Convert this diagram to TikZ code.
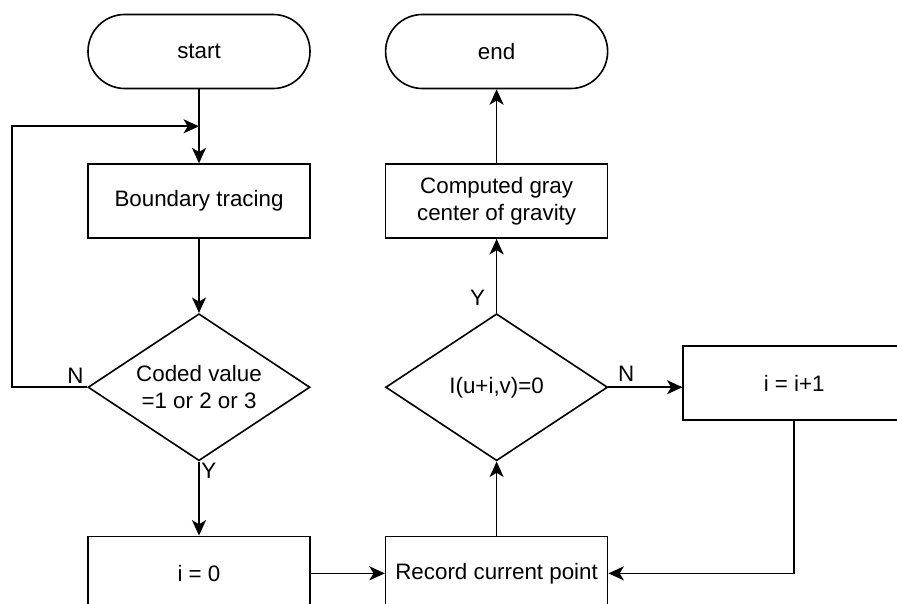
\documentclass[tikz,border=0pt]{standalone}
\usepackage{fontspec}
\setmainfont{Liberation Sans}
\usetikzlibrary{shapes.geometric, arrows.meta, positioning, calc}
\tikzset{
  termbox/.style={
    rectangle, rounded corners=0.92cm, draw, line width=1.15pt,
    minimum width=5.55cm, minimum height=1.85cm,
    font=\fontsize{15.9}{19}\selectfont
  },
  procbox/.style={
    rectangle, draw, line width=1.15pt,
    minimum width=5.55cm, minimum height=1.85cm,
    align=center, font=\fontsize{15.9}{19}\selectfont
  },
  testbox/.style={
    diamond, aspect=1.51, draw, line width=1.15pt, inner sep=0pt,
    minimum width=5.55cm, minimum height=3.675cm,
    align=center, font=\fontsize{15.9}{19}\selectfont
  },
  arr/.style={-{Stealth[length=11pt, width=10pt, inset=3pt]}, line width=1.15pt},
  yn/.style={font=\fontsize{15.9}{19}\selectfont, inner sep=1pt},
}

\begin{document}
\begin{tikzpicture}[node distance=1.85cm]
    \useasboundingbox (-4.975,1.2875) rectangle (17.45,-13.8125);

    \node[termbox] (start) {start};
    \node[procbox, below=of start] (bt) {Boundary tracing};
    \node[testbox, below=of bt] (code) {Coded value\\=1 or 2 or 3};
    \node[procbox, below=of code] (izero) {i = 0};
    \node[procbox, right=of izero] (rec) {Record current point};
    \node[testbox, above=of rec] (test) {I(u+i,v)=0};
    \node[procbox, above=of test] (grav) {Computed gray\\center of gravity};
    \node[termbox, above=of grav] (end) {end};
    \node[procbox, right=of test, yshift=0.1cm] (inc) {i = i+1};

    \coordinate (back) at ($(start.south)!0.5!(bt.north)$);

    \draw[arr] (start) -- (bt);
    \draw[arr] (bt) -- (code);
    \draw[arr] (code.west) -- ++(-1.875,0) |- (back);
    \draw[arr] (code) -- (izero);
    \draw[arr] (izero) -- (rec);
    \draw[arr] (rec) -- (test);
    \draw[arr] (test) -- (grav);
    \draw[arr] (grav) -- (end);
    \draw[arr] (test.east) -- (test.east -| inc.west);
    \draw[arr] (inc.south) |- (rec.east);

    % branch labels
    \node[yn, above left=0.05cm and 0.05cm of code.west] (cn) {N};
    \node[yn, below right=0cm and 0.02cm of code.south] (cy) {Y};
    \node[yn, above right=0.1cm and 0.2cm of test.east] (tn) {N};
    \node[yn, above left=0.15cm and 0.25cm of test.north] (ty) {Y};
\end{tikzpicture}
\end{document}
